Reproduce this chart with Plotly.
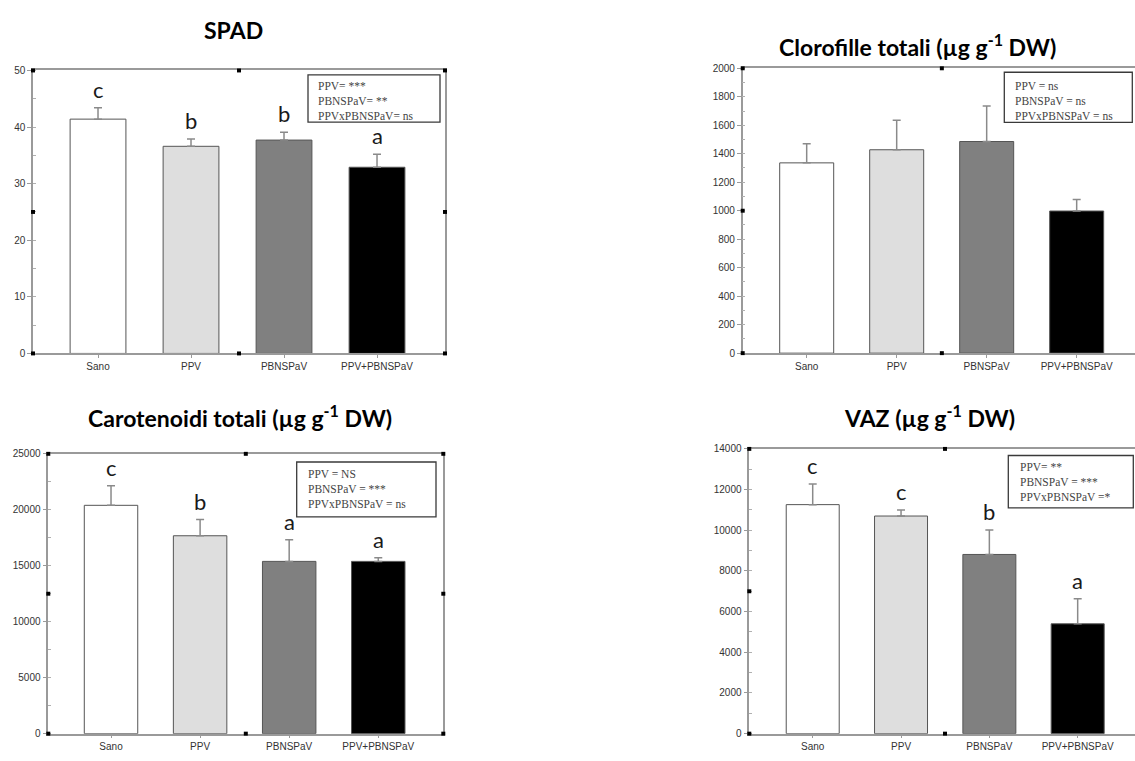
import plotly.graph_objects as go

W, H = 1135, 761

categories = ["Sano", "PPV", "PBNSPaV", "PPV+PBNSPaV"]
bar_colors = ["#ffffff", "#dedede", "#808080", "#000000"]

spad_mean = [41.4, 36.6, 37.7, 32.9]
spad_err = [2.0, 1.3, 1.4, 2.3]
spad_letters = ["c", "b", "b", "a"]
spad_stats = ["PPV= ***", "PBNSPaV= **", "PPVxPBNSPaV= ns"]

chl_mean = [1336, 1428, 1486, 998]
chl_err = [134, 208, 249, 80]
chl_letters = ["", "", "", ""]
chl_stats = ["PPV = ns", "PBNSPaV = ns", "PPVxPBNSPaV = ns"]

car_mean = [20400, 17680, 15390, 15390]
car_err = [1740, 1450, 1930, 320]
car_letters = ["c", "b", "a", "a"]
car_stats = ["PPV = NS", "PBNSPaV = ***", "PPVxPBNSPaV = ns"]

vaz_mean = [11260, 10700, 8810, 5400]
vaz_err = [1010, 300, 1200, 1230]
vaz_letters = ["c", "c", "b", "a"]
vaz_stats = ["PPV= **", "PBNSPaV = ***", "PPVxPBNSPaV =*"]

titles = ["SPAD",
          "Clorofille totali (µg g<sup>-1</sup> DW)",
          "Carotenoidi totali (µg g<sup>-1</sup> DW)",
          "VAZ (µg g<sup>-1</sup> DW)"]


def px(x):
    return x / W


def py(y):
    return 1 - y / H


panels = [
    dict(mean=spad_mean, err=spad_err, letters=spad_letters, stats=spad_stats,
         L=33, R=445, T=65.5, B=353, Rfull=445, xr=[-0.699, 3.731], yr=[0, 50], dt=10,
         title=titles[0], tx=233, ty=24,
         box=[308, 440, 70, 118], tl=316, ttop=73, mirror_y=True),
    dict(mean=chl_mean, err=chl_err, letters=chl_letters, stats=chl_stats,
         L=742.7, R=1135, T=63.3, B=352.7, Rfull=1141, xr=[-0.711, 3.648], yr=[0, 2000], dt=200,
         title=titles[1], tx=917, ty=40,
         box=[1004.3, 1132.3, 67.3, 118.3], tl=1012.5, ttop=73, mirror_y=False),
    dict(mean=car_mean, err=car_err, letters=car_letters, stats=car_stats,
         L=48.3, R=443.3, T=455, B=739.3, Rfull=443.3, xr=[-0.704, 3.730], yr=[0, 25000], dt=5000,
         title=titles[2], tx=239.5, ty=416.7,
         box=[296.7, 436, 463.3, 519], tl=305.5, ttop=467, mirror_y=True),
    dict(mean=vaz_mean, err=vaz_err, letters=vaz_letters, stats=vaz_stats,
         L=749.3, R=1135, T=450, B=739.3, Rfull=1140.7, xr=[-0.718, 3.649], yr=[0, 14000], dt=2000,
         title=titles[3], tx=929, ty=416.7,
         box=[1008.3, 1133.3, 456.7, 510], tl=1018, ttop=460, mirror_y=False),
]

fig = go.Figure()
annotations = []
shapes = []
frame_col = "#9a9a9a"

for i, p in enumerate(panels):
    n = "" if i == 0 else str(i + 1)
    xa, ya = "x" + n, "y" + n
    for j, cat in enumerate(categories):
        fig.add_trace(go.Bar(
            x=[j], y=[p["mean"][j]], width=0.6, xaxis=xa, yaxis=ya,
            marker=dict(color=bar_colors[j], line=dict(color="#555555", width=1)),
            error_y=dict(type="data", symmetric=False, array=[p["err"][j]], arrayminus=[0],
                         color="#8a8a8a", thickness=1.5, width=4),
            showlegend=False, name=cat))
        if p["letters"][j]:
            annotations.append(dict(
                x=j, y=p["mean"][j] + p["err"][j], xref=xa, yref=ya,
                text=p["letters"][j], showarrow=False, yanchor="bottom", yshift=3,
                font=dict(family="Lato, sans-serif", size=22, color="#1a1a1a")))
    xkey = "xaxis" + n
    ykey = "yaxis" + n
    fig.layout[xkey] = dict(
        domain=[px(p["L"]), min(1.0, px(p["R"]))], anchor=ya, range=p["xr"],
        tickvals=list(range(len(categories))), ticktext=categories,
        showline=True, linecolor=frame_col, linewidth=1.5, mirror=True,
        ticks="outside", ticklen=3, tickcolor=frame_col, showgrid=False, zeroline=False,
        tickfont=dict(family="Liberation Sans, Arial, sans-serif", size=10, color="#333333"),
        fixedrange=True)
    fig.layout[ykey] = dict(
        domain=[py(p["B"]), py(p["T"])], anchor=xa, range=p["yr"], dtick=p["dt"],
        tickformat="d",
        showline=True, linecolor=frame_col, linewidth=1.5, mirror=p["mirror_y"],
        ticks="outside", ticklen=4, tickcolor=frame_col, showgrid=False, zeroline=False,
        minor=dict(ticks="inside", ticklen=3, tickcolor="#b0b0b0", dtick=p["dt"] / 2),
        tickfont=dict(family="Liberation Sans, Arial, sans-serif", size=10, color="#333333"),
        fixedrange=True)

    annotations.append(dict(
        x=px(p["tx"]), y=py(p["ty"]), xref="paper", yref="paper", text="<b>" + p["title"] + "</b>",
        showarrow=False, xanchor="center", yanchor="middle",
        font=dict(family="Lato, sans-serif", size=23, color="#000000")))

    bx0, bx1, by0, by1 = p["box"]
    shapes.append(dict(type="rect", xref="paper", yref="paper",
                       x0=px(bx0), x1=px(bx1), y0=py(by1), y1=py(by0),
                       line=dict(color="#3a3a3a", width=1.3), fillcolor="rgba(255,255,255,0)"))
    annotations.append(dict(
        x=px(p["tl"]), y=py(p["ttop"]), xref="paper", yref="paper",
        text="<br>".join(p["stats"]), showarrow=False, xanchor="left", yanchor="top", align="left",
        font=dict(family="Liberation Serif, Times New Roman, serif", size=11.5, color="#444444")))

    xm = (p["L"] + p["Rfull"]) / 2
    ym = (p["T"] + p["B"]) / 2
    pts = [(p["L"], p["T"]), (xm, p["T"]), (p["Rfull"], p["T"]),
           (p["L"], ym), (p["Rfull"], ym),
           (p["L"], p["B"]), (xm, p["B"]), (p["Rfull"], p["B"])]
    for (hx, hy) in pts:
        if hx > W - 2:
            continue
        shapes.append(dict(type="rect", xref="paper", yref="paper",
                           x0=px(hx - 2), x1=px(hx + 2), y0=py(hy + 2), y1=py(hy - 2),
                           line=dict(width=0), fillcolor="#000000"))

fig.update_layout(
    width=W, height=H, margin=dict(l=0, r=0, t=0, b=0),
    paper_bgcolor="#ffffff", plot_bgcolor="#ffffff",
    annotations=annotations, shapes=shapes, barmode="overlay", showlegend=False)

fig.write_html("out.html", config={"displayModeBar": False},
               post_script="document.body.style.margin='0';document.body.style.overflow='hidden';")
